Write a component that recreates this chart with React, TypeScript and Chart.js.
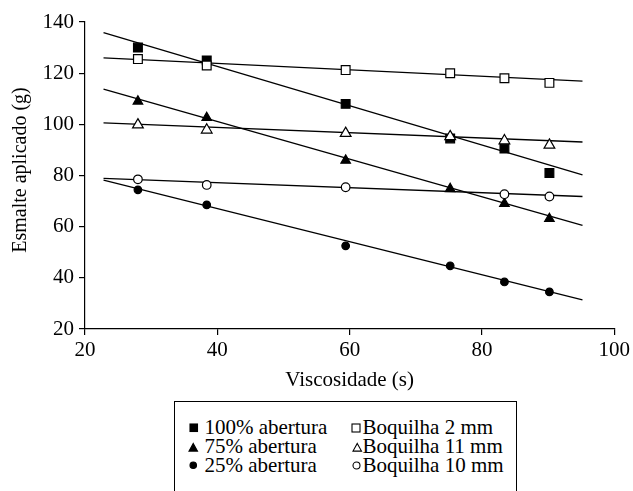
import React, { useEffect, useRef } from "react";
import { Chart, registerables } from "chart.js";
Chart.register(...registerables);

// Viscosity (s) at which each series was measured
const viscosity = [28, 38.4, 59.4, 75.2, 83.4, 90.2];
const viscosityB10 = [28, 38.4, 59.4, 83.4, 90.2];

// Applied enamel (g)
const abertura100 = [130, 125, 108, 94.5, 90.5, 81];
const abertura75 = [109, 102.6, 85.9, 74.8, 69, 63.1];
const abertura25 = [74.4, 68.5, 52.5, 44.7, 38.4, 34.5];
const boquilha2 = [125.5, 123, 121.2, 120, 118, 116.2];
const boquilha11 = [99.8, 97.8, 96.5, 95.2, 93.6, 91.9];
const boquilha10 = [78.5, 76.3, 75.4, 72.7, 71.8];

// Fitted trend lines (start/end)
const fitX = [22.8, 95.2];
const fit100 = [135.8, 80.2];
const fit75 = [113.8, 60.5];
const fit25 = [78.2, 31.4];
const fitB2 = [126, 116.9];
const fitB11 = [100.6, 93.1];
const fitB10 = [78.9, 71.8];

const xTicks = [20, 40, 60, 80, 100];
const yTicks = [20, 40, 60, 80, 100, 120, 140];

const xTitle = "Viscosidade (s)";
const yTitle = "Esmalte aplicado (g)";

const legendLabels = [
  "100% abertura",
  "75% abertura",
  "25% abertura",
  "Boquilha 2 mm",
  "Boquilha 11 mm",
  "Boquilha 10 mm",
];

const FONT = "'Liberation Serif', 'Times New Roman', serif";

function pts(xs: number[], ys: number[]) {
  return ys.map((y, i) => ({ x: xs[i], y }));
}

function Marker({ kind, filled, cx, cy, size }: { kind: string; filled: boolean; cx: number; cy: number; size: number }) {
  const w = size + 4;
  const h = size + 4;
  const fill = filled ? "#000" : "#fff";
  const c = w / 2;
  let shape: React.ReactNode = null;
  if (kind === "rect") {
    shape = <rect x={c - size / 2} y={c - size / 2} width={size} height={size} fill={fill} stroke="#000" strokeWidth={1.1} />;
  } else if (kind === "triangle") {
    const hh = size * 0.9;
    shape = (
      <polygon
        points={`${c},${c - hh / 2} ${c + size / 2},${c + hh / 2} ${c - size / 2},${c + hh / 2}`}
        fill={fill}
        stroke="#000"
        strokeWidth={1.1}
        strokeLinejoin="miter"
      />
    );
  } else {
    shape = <circle cx={c} cy={c} r={size / 2} fill={fill} stroke="#000" strokeWidth={1.1} />;
  }
  return (
    <svg width={w} height={h} style={{ position: "absolute", left: cx - w / 2, top: cy - h / 2 }}>
      {shape}
    </svg>
  );
}

const yTitlePlugin = {
  id: "yTitleText",
  afterDraw(chart: any) {
    const ctx = chart.ctx;
    ctx.save();
    ctx.translate(21, 170);
    ctx.rotate(-Math.PI / 2);
    ctx.font = `20px ${FONT}`;
    ctx.fillStyle = "#000";
    ctx.textAlign = "center";
    ctx.textBaseline = "middle";
    ctx.fillText(yTitle, 0, 0);
    ctx.restore();
  },
};

export default function App() {
  const ref = useRef<HTMLCanvasElement | null>(null);

  useEffect(() => {
    if (!ref.current) return;
    const lineDs = (ys: number[]) => ({
      data: pts(fitX, ys),
      showLine: true,
      borderColor: "#000",
      borderWidth: 1.3,
      pointRadius: 0,
      order: 2,
    });
    const pointDs = (xs: number[], ys: number[], style: string, filled: boolean, r: number) => ({
      data: pts(xs, ys),
      showLine: false,
      pointStyle: style,
      pointRadius: r,
      pointBackgroundColor: filled ? "#000" : "#fff",
      pointBorderColor: "#000",
      pointBorderWidth: 1.2,
      order: filled ? 1 : 0,
    });

    const chart = new Chart(ref.current, {
      type: "scatter",
      data: {
        datasets: [
          lineDs(fit100),
          lineDs(fitB2),
          lineDs(fit75),
          lineDs(fitB11),
          lineDs(fitB10),
          lineDs(fit25),
          pointDs(viscosity, abertura100, "rect", true, 6.2),
          pointDs(viscosity, boquilha2, "rect", false, 6.2),
          pointDs(viscosity, abertura75, "triangle", true, 5.5),
          pointDs(viscosity, boquilha11, "triangle", false, 6.2),
          pointDs(viscosity, abertura25, "circle", true, 3.8),
          pointDs(viscosityB10, boquilha10, "circle", false, 4.3),
        ] as any,
      },
      options: {
        animation: false,
        responsive: false,
        devicePixelRatio: 1,
        layout: { padding: { left: 0, top: 22, right: 18, bottom: 0 } },
        plugins: { legend: { display: false }, tooltip: { enabled: false } },
        scales: {
          x: {
            type: "linear",
            min: xTicks[0],
            max: xTicks[xTicks.length - 1],
            afterBuildTicks: (s: any) => {
              s.ticks = xTicks.map((v) => ({ value: v }));
            },
            afterFit: (s: any) => {
              s.height = 71;
            },
            grid: { drawOnChartArea: false, drawTicks: true, tickLength: 6, color: "#000", lineWidth: 1.2 },
            border: { display: true, color: "#000", width: 1.2 },
            ticks: { color: "#000", padding: 3, font: { family: FONT, size: 21 } },
            title: {
              display: true,
              text: xTitle,
              color: "#000",
              font: { family: FONT, size: 21 },
              padding: { top: 0, bottom: 7 },
            },
          },
          y: {
            type: "linear",
            min: yTicks[0],
            max: yTicks[yTicks.length - 1],
            afterBuildTicks: (s: any) => {
              s.ticks = yTicks.map((v) => ({ value: v }));
            },
            afterFit: (s: any) => {
              s.width = 85;
            },
            grid: { drawOnChartArea: false, drawTicks: true, tickLength: 6, color: "#000", lineWidth: 1.2 },
            border: { display: true, color: "#000", width: 1.2 },
            ticks: { color: "#000", padding: 5, font: { family: FONT, size: 21 } },
            title: { display: false },
          },
        },
      },
      plugins: [yTitlePlugin],
    });
    return () => chart.destroy();
  }, []);

  const rowTops = [417.4, 436.4, 455];
  const rowCy = [427.5, 447, 465.5];
  const col1Text = 204.4;
  const col2Text = 362.4;

  return (
    <div
      style={{
        position: "absolute",
        left: 0,
        top: 0,
        width: 633,
        height: 491,
        overflow: "hidden",
        background: "#fff",
      }}
    >
      <canvas ref={ref} width={633} height={400} style={{ position: "absolute", left: 0, top: 0 }} />
      <div
        style={{
          position: "absolute",
          left: 174,
          top: 401,
          width: 343,
          height: 110,
          border: "1.3px solid #000",
          boxSizing: "border-box",
        }}
      />
      <Marker kind="rect" filled cx={193.7} cy={rowCy[0]} size={7.5} />
      <Marker kind="triangle" filled cx={193.5} cy={rowCy[1]} size={8.5} />
      <Marker kind="circle" filled cx={193.5} cy={rowCy[2]} size={6.5} />
      <Marker kind="rect" filled={false} cx={356} cy={rowCy[0]} size={8} />
      <Marker kind="triangle" filled={false} cx={356.8} cy={rowCy[1]} size={8.5} />
      <Marker kind="circle" filled={false} cx={356.5} cy={rowCy[2]} size={7} />
      {legendLabels.map((label, i) => (
        <div
          key={label}
          style={{
            position: "absolute",
            left: i < 3 ? col1Text : col2Text,
            top: rowTops[i % 3],
            fontFamily: FONT,
            fontSize: 21,
            lineHeight: "21px",
            whiteSpace: "nowrap",
            color: "#000",
          }}
        >
          {label}
        </div>
      ))}
    </div>
  );
}
